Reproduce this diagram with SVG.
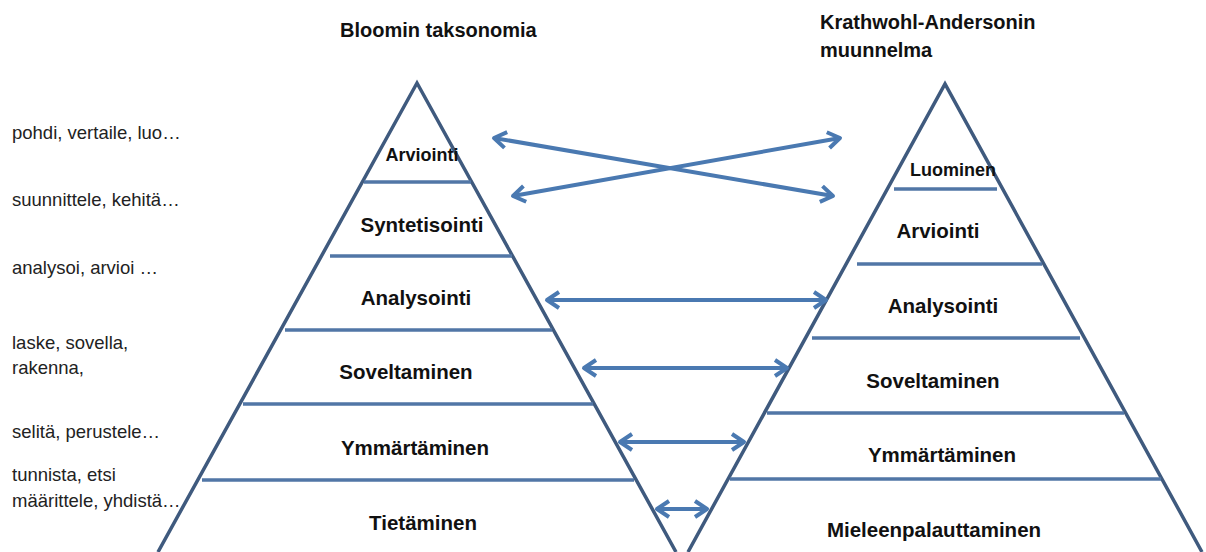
<svg xmlns="http://www.w3.org/2000/svg" width="1206" height="552" viewBox="0 0 1206 552">
<style>
.edge{fill:none;stroke:#3f5a7e;stroke-width:3.5;stroke-linejoin:miter}
.lvl{stroke:#5176a6;stroke-width:3.5}
.arr{stroke:#4a79b1;stroke-width:4;fill:none;marker-start:url(#ah);marker-end:url(#ah)}
.t{font-family:"Liberation Sans",Arial,sans-serif;font-weight:bold;font-size:20.5px;fill:#111;text-anchor:middle}
.ts{font-size:18px}
.title{font-family:"Liberation Sans",Arial,sans-serif;font-weight:bold;font-size:20px;fill:#111}
.side{font-family:"Liberation Sans",Arial,sans-serif;font-size:18.5px;fill:#222}
</style>
<defs>
<marker id="ah" markerUnits="userSpaceOnUse" viewBox="-16 -12 20 24" markerWidth="20" markerHeight="24" refX="0" refY="0" orient="auto-start-reverse" overflow="visible">
<path d="M-12,-8 L0,0 L-12,8" fill="none" stroke="#4a79b1" stroke-width="4" stroke-linejoin="round"/>
</marker>
</defs>
<rect width="1206" height="552" fill="#fff"/>
<g id="titles">
<text class="title" x="340" y="37">Bloomin taksonomia</text>
<text class="title" x="820" y="29">Krathwohl-Andersonin</text>
<text class="title" x="820" y="57">muunnelma</text>
</g>
<g id="verbs">
<text class="side" x="12" y="139">pohdi, vertaile, luo…</text>
<text class="side" x="12" y="206">suunnittele, kehitä…</text>
<text class="side" x="12" y="274">analysoi, arvioi …</text>
<text class="side" x="12" y="349">laske, sovella,</text>
<text class="side" x="12" y="374">rakenna,</text>
<text class="side" x="12" y="438">selitä, perustele…</text>
<text class="side" x="12" y="481">tunnista, etsi</text>
<text class="side" x="12" y="507">määrittele, yhdistä…</text>
</g>
<g id="bloom">
<path class="edge" d="M158,552 L417,83 L676,552"/>
<line class="lvl" x1="364" y1="182" x2="471" y2="182"/>
<line class="lvl" x1="330" y1="256" x2="512" y2="256"/>
<line class="lvl" x1="285" y1="330" x2="552" y2="330"/>
<line class="lvl" x1="243" y1="404" x2="593" y2="404"/>
<line class="lvl" x1="202" y1="480" x2="634" y2="480"/>
<text class="t ts" x="422" y="161">Arviointi</text>
<text class="t" x="422" y="232">Syntetisointi</text>
<text class="t" x="416" y="305">Analysointi</text>
<text class="t" x="406" y="379">Soveltaminen</text>
<text class="t" x="415" y="455">Ymmärtäminen</text>
<text class="t" x="423" y="530">Tietäminen</text>
</g>
<g id="krathwohl">
<path class="edge" d="M688,552 L945,84 L1202,552"/>
<line class="lvl" x1="894" y1="189" x2="997" y2="189"/>
<line class="lvl" x1="857" y1="264" x2="1042" y2="264"/>
<line class="lvl" x1="812" y1="338" x2="1080" y2="338"/>
<line class="lvl" x1="767" y1="413" x2="1124" y2="413"/>
<line class="lvl" x1="730" y1="479" x2="1161" y2="479"/>
<text class="t ts" x="953" y="176">Luominen</text>
<text class="t" x="938" y="238">Arviointi</text>
<text class="t" x="943" y="313">Analysointi</text>
<text class="t" x="933" y="388">Soveltaminen</text>
<text class="t" x="942" y="462">Ymmärtäminen</text>
<text class="t" x="934" y="537">Mieleenpalauttaminen</text>
</g>
<g id="connectors">
<line class="arr" x1="494" y1="138" x2="833" y2="196"/>
<line class="arr" x1="513" y1="196" x2="840" y2="138"/>
<line class="arr" x1="547" y1="300" x2="826" y2="300"/>
<line class="arr" x1="584" y1="368" x2="787" y2="368"/>
<line class="arr" x1="620" y1="442" x2="744" y2="442"/>
<line class="arr" x1="657" y1="509" x2="707" y2="509"/>
</g>
</svg>
